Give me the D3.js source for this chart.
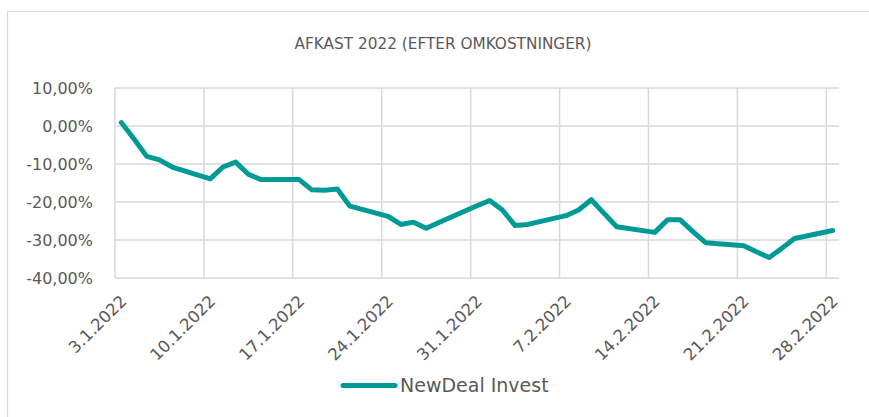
<!DOCTYPE html>
<html>
<head>
<meta charset="utf-8">
<script src="https://cdn.jsdelivr.net/npm/d3@7"></script>
<style>
  body { margin: 0; background: #fff; }
  svg { display: block; font-family: "DejaVu Sans", sans-serif; }
  .grid line { stroke: #d9d9d9; stroke-width: 1.5; }
  .lbl { fill: #595959; }
</style>
</head>
<body>
<svg id="chart" width="869" height="417"></svg>
<script>
// Trading days (day, month) in 2022 and return after costs (%)
const days = [
  [3,1],[4,1],[5,1],[6,1],[7,1],[10,1],[11,1],[12,1],[13,1],[14,1],
  [17,1],[18,1],[19,1],[20,1],[21,1],[24,1],[25,1],[26,1],[27,1],[28,1],
  [31,1],[1,2],[2,2],[3,2],[4,2],[7,2],[8,2],[9,2],[10,2],[11,2],
  [14,2],[15,2],[16,2],[17,2],[18,2],[21,2],[22,2],[23,2],[24,2],[25,2],[28,2]
];
const returns = [
  0.9, -3.4, -8.0, -8.9, -10.8, -13.9, -10.8, -9.5, -12.7, -14.1,
  -14.1, -16.8, -16.9, -16.6, -21.1, -23.8, -25.9, -25.3, -26.9, -25.4,
  -21.0, -19.6, -22.1, -26.2, -25.9, -23.6, -22.1, -19.4, -23.0, -26.5,
  -28.0, -24.7, -24.7, -27.8, -30.7, -31.5, -33.1, -34.6, -32.2, -29.6, -27.5
];
const yTicks = [10, 0, -10, -20, -30, -40];
const tickDates = ["3.1.2022","10.1.2022","17.1.2022","24.1.2022","31.1.2022","7.2.2022","14.2.2022","21.2.2022","28.2.2022"];
const title = "AFKAST 2022 (EFTER OMKOSTNINGER)";
const seriesName = "NewDeal Invest";

const data = days.map((d, i) => ({ date: new Date(2022, d[1] - 1, d[0], 12), value: returns[i] }));
const parseTick = s => { const p = s.split("."); return new Date(+p[2], +p[1] - 1, +p[0]); };

const svg = d3.select("#chart");
const plot = { left: 115, right: 839, top: 88, bottom: 278 };

// outer chart border (only top and left visible)
svg.append("path")
  .attr("d", "M7.5,420 V11.5 H872")
  .attr("fill", "none").attr("stroke", "#d9d9d9").attr("stroke-width", 1.2);

const x = d3.scaleTime()
  .domain([new Date(2022, 0, 3), new Date(2022, 2, 1)])
  .range([plot.left, plot.right]);
const y = d3.scaleLinear().domain([-40, 10]).range([plot.bottom, plot.top]);

const grid = svg.append("g").attr("class", "grid");
grid.selectAll(".h").data(yTicks).join("line")
  .attr("x1", plot.left).attr("x2", plot.right)
  .attr("y1", d => y(d)).attr("y2", d => y(d));
grid.selectAll(".v").data(tickDates).join("line")
  .attr("x1", d => x(parseTick(d))).attr("x2", d => x(parseTick(d)))
  .attr("y1", plot.top).attr("y2", plot.bottom);

// y labels
const fmt = v => v.toFixed(2).replace(".", ",") + "%";
svg.selectAll(".ylbl").data(yTicks).join("text")
  .attr("class", "lbl")
  .attr("x", 93).attr("y", d => y(d))
  .attr("dy", "0.36em")
  .attr("text-anchor", "end")
  .style("font-size", "16px")
  .text(d => fmt(d));

// x labels
svg.selectAll(".xlbl").data(tickDates).join("text")
  .attr("class", "lbl")
  .attr("transform", d => {
    const px = x(d3.timeHour.offset(parseTick(d), 12));
    return `translate(${px + 2},${plot.bottom + 20}) rotate(-45)`;
  })
  .attr("text-anchor", "end")
  .attr("dy", "0.36em")
  .style("font-size", "16.5px")
  .text(d => d);

// line
const line = d3.line().x(d => x(d.date)).y(d => y(d.value));
svg.append("path")
  .datum(data)
  .attr("d", line)
  .attr("fill", "none")
  .attr("stroke", "#009a96")
  .attr("stroke-width", 5)
  .attr("stroke-linejoin", "round")
  .attr("stroke-linecap", "round");

// title
svg.append("text")
  .attr("class", "lbl")
  .attr("x", 443).attr("y", 49)
  .attr("text-anchor", "middle")
  .style("font-size", "15.3px")
  .text(title);

// legend
svg.append("line")
  .attr("x1", 343).attr("x2", 395).attr("y1", 385.5).attr("y2", 385.5)
  .attr("stroke", "#009a96").attr("stroke-width", 5).attr("stroke-linecap", "round");
svg.append("text")
  .attr("class", "lbl")
  .attr("x", 400).attr("y", 392)
  .style("font-size", "19px")
  .text(seriesName);
</script>
</body>
</html>
